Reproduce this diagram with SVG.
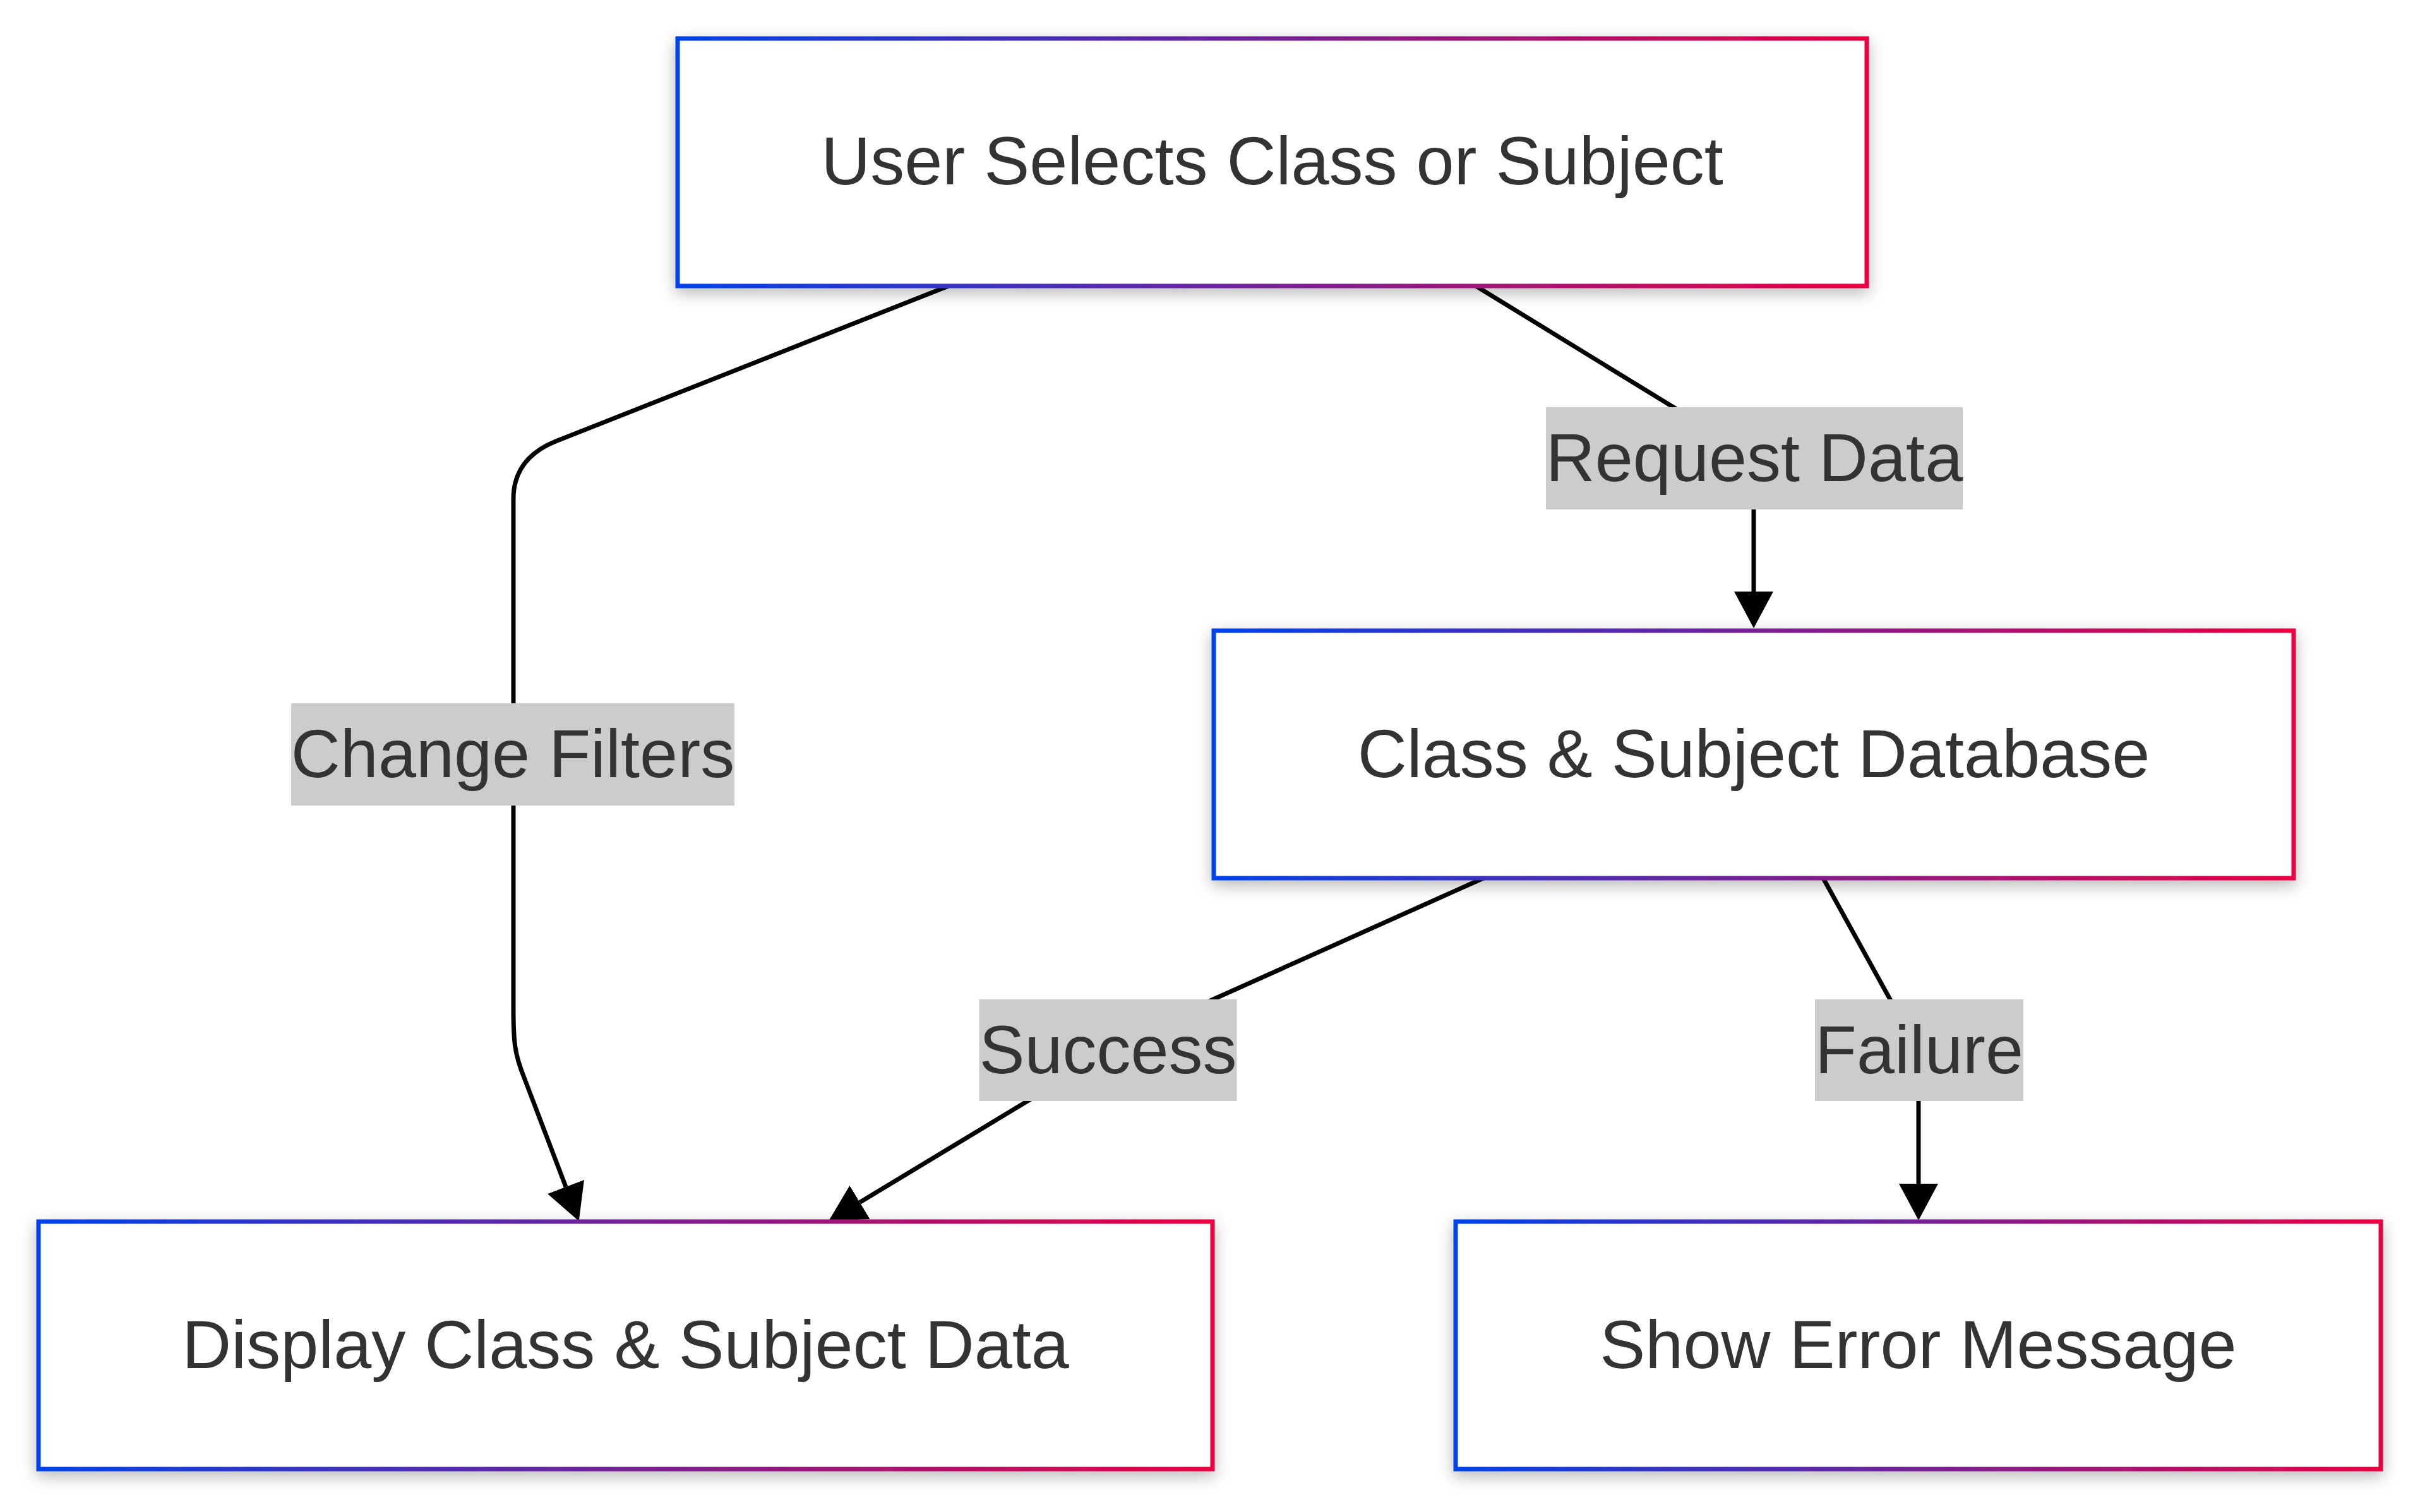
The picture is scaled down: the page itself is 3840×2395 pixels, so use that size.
<svg xmlns="http://www.w3.org/2000/svg" width="3840" height="2395" viewBox="0 0 3840 2395">
  <defs>
    <linearGradient id="borderGrad" x1="0" y1="0" x2="1" y2="0">
      <stop offset="0" stop-color="#0042eb"/>
      <stop offset="1" stop-color="#eb0042"/>
    </linearGradient>
    <filter id="shadow" x="-10%" y="-30%" width="120%" height="160%">
      <feDropShadow dx="0" dy="8" stdDeviation="12" flood-color="#000" flood-opacity="0.28"/>
    </filter>
    <marker id="arrow" markerUnits="userSpaceOnUse" markerWidth="58" markerHeight="62" viewBox="0 0 58 62" refX="0" refY="31" orient="auto">
      <path d="M0,0 L58,31 L0,62 z" fill="#000"/>
    </marker>
    <style>
      .node rect { fill: #ffffff; stroke: url(#borderGrad); stroke-width: 7; filter: url(#shadow); }
      .node text { font-family: "Liberation Sans", Arial, sans-serif; font-size: 108px; fill: #333333; text-anchor: middle; }
      .edge { fill: none; stroke: #000000; stroke-width: 7; marker-end: url(#arrow); }
      .label rect { fill: #cccccc; }
      .label text { font-family: "Liberation Sans", Arial, sans-serif; font-size: 108px; fill: #333333; text-anchor: middle; }
    </style>
  </defs>
  <rect x="0" y="0" width="3840" height="2395" fill="#ffffff"/>

  <g id="connectors">
    <path class="edge" d="M1502,453 L880,699 C838,716 813,745 813,790 L813,1600 C813,1650 815,1670 830,1707 L896,1880"/>
    <path class="edge" d="M2337,453 L2650,645 Q2777,723 2777,790 L2777,937"/>
    <path class="edge" d="M2349,1391 L1921,1583 Q1790,1642 1700,1700 L1361.5,1904.5"/>
    <path class="edge" d="M2887,1391 L2993,1583 Q3038,1665 3038,1720 L3038,1875"/>
    <g class="label" id="label-change-filters">
      <rect x="461" y="1114" width="702" height="162"/>
      <text x="812" y="1231">Change Filters</text>
    </g>
    <g class="label" id="label-request-data">
      <rect x="2448" y="645" width="660" height="162"/>
      <text x="2778" y="762">Request Data</text>
    </g>
    <g class="label" id="label-success">
      <rect x="1550.5" y="1583" width="408" height="161"/>
      <text x="1754.5" y="1699.5">Success</text>
    </g>
    <g class="label" id="label-failure">
      <rect x="2874" y="1583" width="330" height="161"/>
      <text x="3039" y="1699.5">Failure</text>
    </g>
  </g>

  <g id="node-user" class="node">
    <rect x="1073" y="61" width="1883" height="392"/>
    <text x="2014.5" y="292">User Selects Class or Subject</text>
  </g>
  <g id="node-db" class="node">
    <rect x="1922" y="999" width="1710" height="392"/>
    <text x="2777" y="1231">Class &amp; Subject Database</text>
  </g>
  <g id="node-display" class="node">
    <rect x="61" y="1935" width="1859" height="392"/>
    <text x="990.5" y="2167">Display Class &amp; Subject Data</text>
  </g>
  <g id="node-error" class="node">
    <rect x="2305" y="1935" width="1465" height="392"/>
    <text x="3037.5" y="2167">Show Error Message</text>
  </g>
</svg>
